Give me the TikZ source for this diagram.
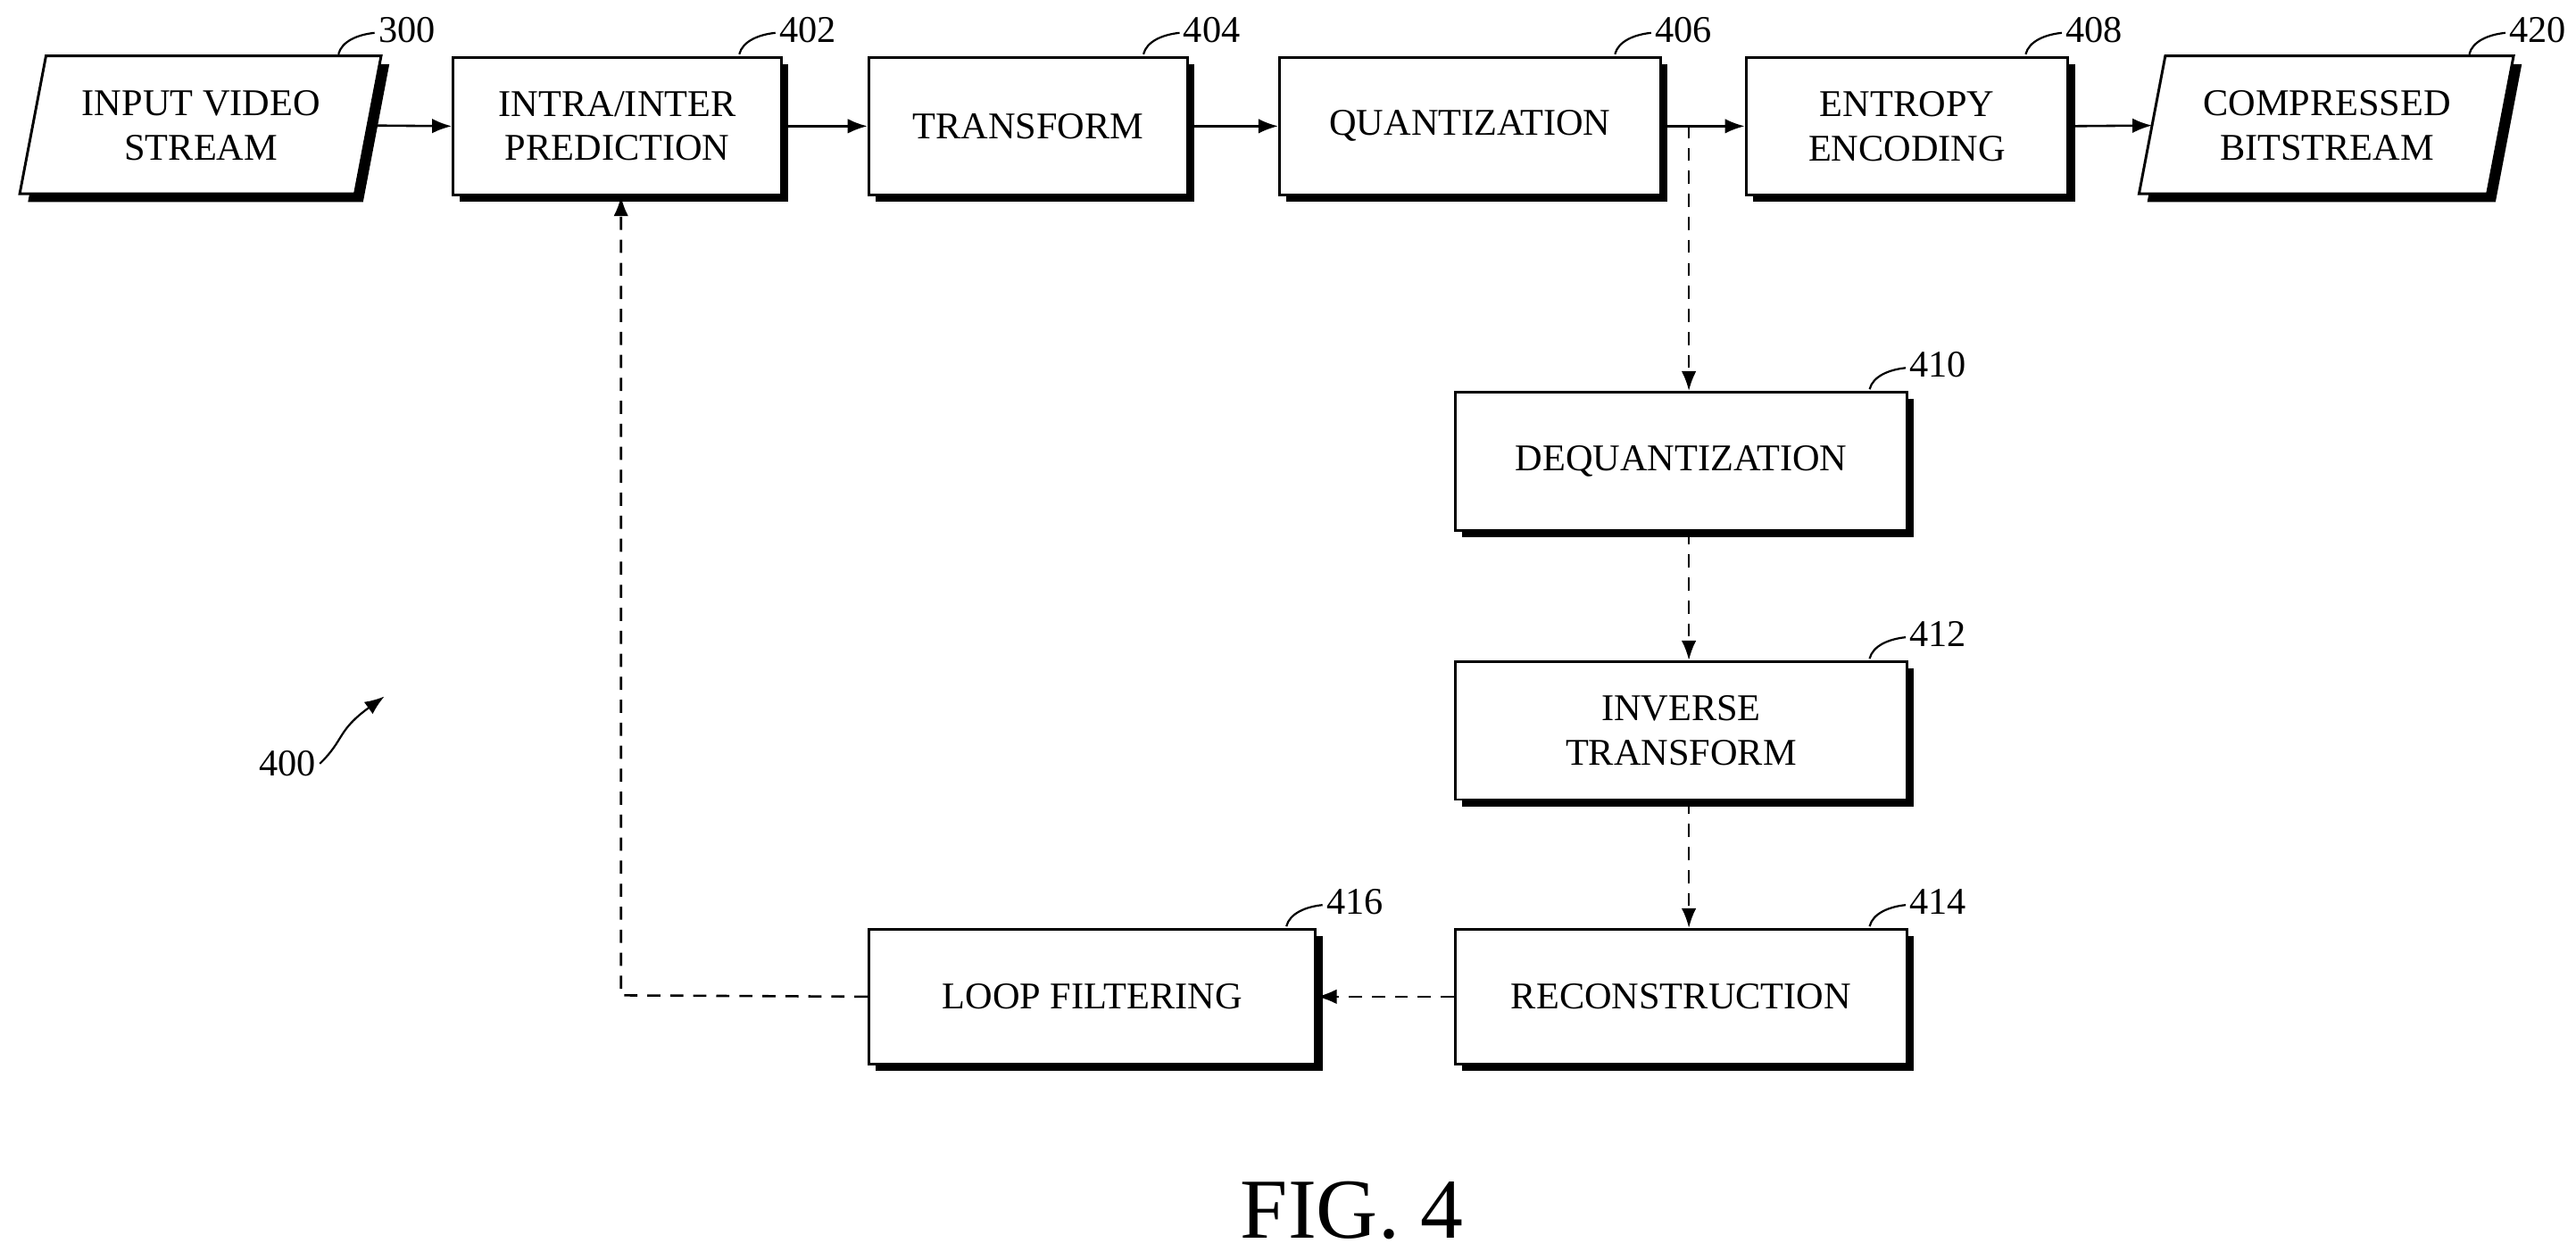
\documentclass[tikz,border=0pt]{standalone}
\usepackage{fontspec}
\setmainfont{Liberation Serif}
\usetikzlibrary{arrows.meta}
\begin{document}
\begin{tikzpicture}[x=0.5pt,y=-0.5pt,
 box/.style={draw,line width=0.8pt,fill=white,align=center,font=\fontsize{11.5}{13.5}\selectfont,inner sep=0pt},
 shad/.style={fill=black},
 arr/.style={line width=0.7pt,-{Latex[length=6pt,width=4.5pt]}},
 darr/.style={arr,dash pattern=on 4pt off 3pt},
 lead/.style={line width=0.6pt},
 num/.style={font=\fontsize{11.5}{13.5}\selectfont,inner sep=1pt}]
\useasboundingbox (0,0) rectangle (1568,767);
% boxes: name, x1,y1,x2,y2, text
\def\bx#1#2#3#4#5#6{%
 \fill[shad] (#2+5,#3+5) rectangle (#4+5,#5+5);
 \node[box,minimum width={(#4-#2)*0.5pt},minimum height={(#5-#3)*0.5pt},anchor=north west] (#1) at (#2,#3) {#6};}
\def\pg#1#2#3#4#5#6{%
 \fill[shad] (#2+16+5,#3+5) -- (#4+5,#3+5) -- (#4-16+5,#5+5) -- (#2+5,#5+5) -- cycle;
 \draw[line width=0.8pt,fill=white] (#2+16,#3) -- (#4,#3) -- (#4-16,#5) -- (#2,#5) -- cycle;
 \node[align=center,font=\fontsize{11.5}{13.5}\selectfont,inner sep=0pt,minimum width={(#4-#2-16)*0.5pt},minimum height={(#5-#3)*0.5pt},anchor=north west] (#1) at (#2+8,#3) {#6};}
\pg{in}{12}{34}{232}{118}{INPUT VIDEO\\STREAM}
\bx{p}{275}{34}{475}{118}{INTRA/INTER\\PREDICTION}
\bx{t}{528}{34}{722}{118}{TRANSFORM}
\bx{q}{778}{34}{1010}{118}{QUANTIZATION}
\bx{e}{1062}{34}{1258}{118}{ENTROPY\\ENCODING}
\pg{out}{1302}{34}{1530}{118}{COMPRESSED\\BITSTREAM}
\bx{dq}{885}{238}{1160}{322}{DEQUANTIZATION}
\bx{it}{885}{402}{1160}{486}{INVERSE\\TRANSFORM}
\bx{rc}{885}{565}{1160}{647}{RECONSTRUCTION}
\bx{lf}{528}{565}{800}{647}{LOOP FILTERING}
% labels
\def\lb#1#2#3{\draw[lead] (#1-22,#2) .. controls (#1-20,#2-8) and (#1-10,#2-12) .. (#1,#2-13);
 \node[num,anchor=west] (n#3) at (#1,#2-15) {#3};}
\lb{228}{33}{300}
\lb{472}{33}{402}
\lb{718}{33}{404}
\lb{1005}{33}{406}
\lb{1255}{33}{408}
\lb{1525}{33}{420}
\lb{1160}{237}{410}
\lb{1160}{401}{412}
\lb{1160}{564}{414}
\lb{805}{564}{416}
\node[num] (n400) at (175,465) {400};
\coordinate (a400) at (234,424);
\draw[lead,-{Latex[length=6pt,width=4.5pt]}] (n400.east) .. controls (210,450) and (205,445) .. (a400);
% arrows
\draw[arr] (in.east) -- (p.west);
\draw[arr] (p) -- (t);
\draw[arr] (t) -- (q);
\draw[arr] (q) -- (e);
\draw[arr] (e.east) -- (out.west);
\coordinate (br) at (1028,76);
\draw[darr] (br) -- (dq.north -| br);
\draw[darr] (dq.south -| br) -- (it.north -| br);
\draw[darr] (it.south -| br) -- (rc.north -| br);
\draw[darr] (rc) -- (lf);
\coordinate (cn) at (378,606);
\draw[darr] (lf.west) -- (cn) -- (p.south -| cn);
\node[font=\fontsize{26}{30}\selectfont] (fig) at (823,737) {FIG. 4};
\end{tikzpicture}
\end{document}
